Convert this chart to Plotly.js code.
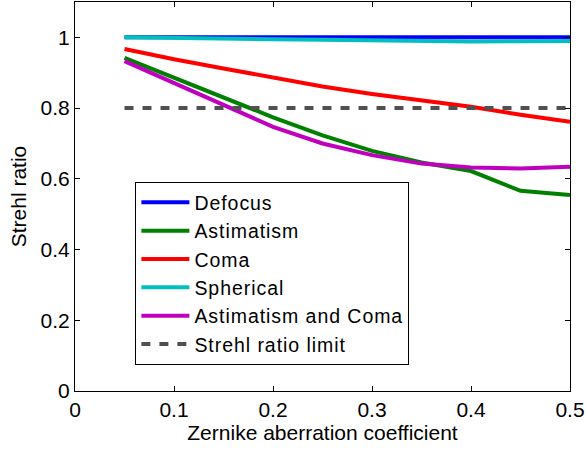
<!DOCTYPE html>
<html><head><meta charset="utf-8">
<script src="https://cdn.plot.ly/plotly-3.0.1.min.js"></script>
<style>html,body{margin:0;padding:0;background:#fff}#chart{width:586px;height:449px}
.legendtext{letter-spacing:0.95px}</style>
</head><body><div id="chart"></div>
<script>
const coeff = [0.05, 0.10, 0.15, 0.20, 0.25, 0.30, 0.35, 0.40, 0.45, 0.50];
const defocus = [1.000, 1.000, 1.000, 1.000, 1.000, 1.000, 1.000, 1.000, 1.000, 1.000];
const astigmatism = [0.942, 0.886, 0.830, 0.774, 0.723, 0.679, 0.646, 0.622, 0.566, 0.554];
const coma = [0.967, 0.938, 0.912, 0.886, 0.861, 0.840, 0.822, 0.804, 0.781, 0.761];
const spherical = [1.000, 0.999, 0.997, 0.995, 0.993, 0.991, 0.989, 0.988, 0.989, 0.990];
const astigComa = [0.933, 0.871, 0.812, 0.747, 0.700, 0.667, 0.643, 0.632, 0.629, 0.634];
const limitX = [0.05, 0.50];
const limitY = [0.8, 0.8];
const names = ["Defocus", "Astimatism", "Coma", "Spherical", "Astimatism and Coma", "Strehl ratio limit"];

const W = 4;
const traces = [
  {x: coeff, y: defocus, name: names[0], line: {color: '#0000ff', width: W}},
  {x: coeff, y: astigmatism, name: names[1], line: {color: '#008000', width: W}},
  {x: coeff, y: coma, name: names[2], line: {color: '#ff0000', width: W}},
  {x: coeff, y: spherical, name: names[3], line: {color: '#00bfbf', width: W}},
  {x: coeff, y: astigComa, name: names[4], line: {color: '#bf00bf', width: W}},
  {x: limitX, y: limitY, name: names[5], line: {color: '#505050', width: W, dash: '9px,9px'}}
].map(t => Object.assign({type: 'scatter', mode: 'lines'}, t));

const font = {family: 'Liberation Sans, Arial, sans-serif', size: 21, color: '#000'};
const legendFont = {family: 'Liberation Sans, Arial, sans-serif', size: 19.5, color: '#000'};
const axisCommon = {
  showgrid: false, zeroline: false, showline: true, mirror: 'ticks',
  linecolor: '#000', linewidth: 1, ticks: 'inside', ticklen: 5, tickcolor: '#000',
  tickfont: font
};
const layout = {
  width: 586, height: 449,
  margin: {l: 75, r: 16, t: 2, b: 58},
  paper_bgcolor: '#fff', plot_bgcolor: '#fff',
  font: font,
  showlegend: true,
  legend: {
    x: 0.122, y: 0.537, xanchor: 'left', yanchor: 'top',
    bordercolor: '#000', borderwidth: 1, bgcolor: '#fff',
    font: legendFont, itemwidth: 48
  },
  xaxis: Object.assign({}, axisCommon, {
    range: [0, 0.5], tick0: 0, dtick: 0.1,
    title: {text: 'Zernike aberration coefficient', font: font, standoff: 2}
  }),
  yaxis: Object.assign({}, axisCommon, {
    range: [0, 1.1], tick0: 0, dtick: 0.2,
    title: {text: 'Strehl ratio', font: font, standoff: 8}
  })
};
Plotly.newPlot('chart', traces, layout, {displayModeBar: false, staticPlot: true});
</script></body></html>
